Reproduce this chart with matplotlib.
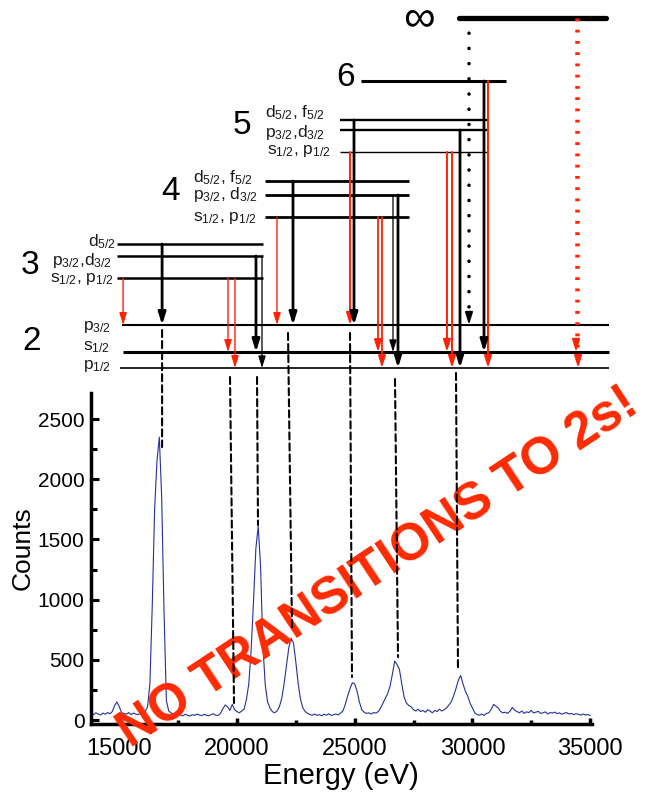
import numpy as np
import matplotlib.pyplot as plt
from matplotlib.patches import ConnectionPatch

plt.rcParams['font.family'] = ['Liberation Sans', 'DejaVu Sans']
plt.rcParams['mathtext.fontset'] = 'custom'
plt.rcParams['mathtext.rm'] = 'Liberation Sans'
plt.rcParams['mathtext.it'] = 'Liberation Sans:italic'
plt.rcParams['mathtext.bf'] = 'Liberation Sans:bold'

# spectrum (counts every 100 eV starting at 13800 eV)
e_start, e_step = 13800, 100
counts = [
    55, 45, 60, 50, 42, 58, 48, 62, 52, 70,                       # 13800-14700
    120, 150, 110, 60,                                             # 14800-15100
    55, 48, 62, 45, 58, 50, 44, 60, 52,                            # 15200-16000
    70, 110, 300, 950, 1750, 2150, 2350, 1850, 900, 160, 75,      # 16100-17100
    60, 45, 38, 50, 42, 35, 48, 40, 33, 45, 38, 50, 42, 36, 48,
    40, 35, 46, 52, 40, 38, 55,                                    # 17200-19300
    95, 125, 110, 80,                                              # 19400-19700
    130, 85, 70, 60, 75,                                           # 19800-20200
    90, 170, 300, 580, 980, 1420, 1610, 1280, 620, 290, 150, 100, 70,  # 20300-21500
    60, 75, 110,                                                   # 21600-21800
    180, 300, 450, 600, 680, 640, 480, 300, 170, 100, 70,         # 21900-22900
    55, 45, 40, 50, 38, 45, 35, 48, 40, 52, 38, 44, 50, 42, 58, 75,  # 23000-24500
    130, 200, 260, 310, 300, 240, 150, 85, 65,                     # 24600-25400
    55, 60, 50, 62, 58, 70,                                        # 25500-26000
    100, 140, 180, 220, 280, 380, 490, 460, 420, 300, 190, 140, 120, 110,  # 26100-27400
    85, 75, 90, 70, 80, 65, 85, 75, 60, 80, 70, 90, 75, 85, 100, 125,  # 27500-29000
    150, 200, 260, 330, 370, 300, 240, 200, 140, 100, 60, 45,     # 29100-30200
    40, 50, 38, 55, 60,                                            # 30300-30700
    90, 130, 115, 100,                                             # 30800-31100
    70, 60, 65, 55, 75,                                            # 31200-31600
    105, 80,                                                       # 31700-31800
    70, 60, 75, 55, 68, 62, 80, 58, 65, 72, 55, 60, 68, 50, 62, 58,
    66, 52, 60, 48, 57, 62, 50, 55, 45, 52, 48, 40, 50, 42, 46, 38,  # 31900-35000
]
energy = e_start + e_step * np.arange(len(counts))

# level scheme (heights in arbitrary diagram units, extents in eV)
level_names = ['2p32', '2s12', '2p12', '3s', '3p', '3d', '4s', '4p', '4d',
               '5s', '5p', '5d', '6', 'inf']
level_height = [68, 41, 25, 115, 137, 149, 176, 198, 212, 241, 263, 273, 312, 375]
level_start = [15100, 15150, 15030, 14900, 14900, 14900, 21190, 21190, 21190,
               24375, 24375, 24375, 25260, 29420]
level_end = [35800, 35800, 35800, 21100, 21100, 21100, 27300, 27300, 27300,
             30600, 30600, 30600, 31430, 35660]
level_lw = [1.5, 2.2, 1.2, 1.8, 1.8, 1.8, 2.0, 2.0, 2.0, 1.0, 1.7, 1.7, 2.2, 3.8]
H = dict(zip(level_names, level_height))

# allowed transitions drawn as arrows
black_E = [16818, 20807, 21062, 22379, 26627, 26839, 24970, 29473, 30492]
black_from = ['3d', '3p', '3p', '4d', '4p', '4p', '5d', '5p', '6']
black_to = ['2p32', '2s12', '2p12', '2p32', '2s12', '2p12', '2p32', '2p12', '2s12']
black_lw = [2.0, 2.0, 0.9, 2.0, 0.9, 2.0, 2.0, 2.0, 2.0]

red_E = [15161, 19618, 19915, 21699, 24800, 25989, 26159, 28920, 29133, 30662]
red_from = ['3s', '3s', '3s', '4s', '5s', '4s', '4s', '5s', '5s', '6']
red_to = ['2p32', '2s12', '2p12', '2p32', '2p32', '2s12', '2p12', '2s12', '2p12', '2p12']
red_lw = [1.0, 1.0, 1.0, 1.0, 1.4, 1.3, 1.3, 1.4, 1.4, 1.4]

limit_E = [29855, 34403, 34488]
limit_to = ['2p32', '2s12', '2p12']
limit_color = ['black', '#ff2200', '#ff2200']

# dashed guides from the scheme down to the peaks
guide_top_E = [16818, 19703, 20850, 22167, 24800, 26712, 29303]
guide_top_h = [63, 16, 16, 60, 60, 14, 20]
guide_peak_E = [16818, 19873, 20892, 22337, 24885, 26840, 29388]
guide_peak_counts = [2267, 141, 1620, 764, 357, 523, 415]

# labels
num_text = ['2', '3', '4', '5', '6', '\u221e']
num_E = [11292, 11207, 17196, 20212, 24630, 27731]
num_h = [51, 128, 202, 268, 316, 374]
num_size = [24, 24, 24, 24, 24, 32]

sub_text = ['p$_{3/2}$', 's$_{1/2}$', 'p$_{1/2}$',
            'd$_{5/2}$', 'p$_{3/2}$,d$_{3/2}$', 's$_{1/2}$, p$_{1/2}$',
            'd$_{5/2}$, f$_{5/2}$', 'p$_{3/2}$, d$_{3/2}$', 's$_{1/2}$, p$_{1/2}$',
            'd$_{5/2}$, f$_{5/2}$', 'p$_{3/2}$,d$_{3/2}$', 's$_{1/2}$, p$_{1/2}$']
sub_E = [13458, 13458, 13458, 13670, 12141, 12056, 18131, 18131, 18131,
         21189, 21189, 21274]
sub_h = [63, 43, 24, 147, 128, 111, 211, 194, 172, 276, 256, 239]

xlim = (13785, 35068)
ylim = (-33, 2716)

W, Hpx = 666, 797
fig = plt.figure(figsize=(W / 100, Hpx / 100), dpi=100)
left, right, bottom, top = 90.7, 591.7, 724, 393
ax = fig.add_axes([left / W, (Hpx - bottom) / Hpx, (right - left) / W, (bottom - top) / Hpx])
axd = fig.add_axes([left / W, (Hpx - top) / Hpx, (right - left) / W, top / Hpx])

# spectrum
ax.plot(energy, counts, color='#23329e', lw=0.8)
ax.set_xlim(*xlim)
ax.set_ylim(*ylim)
for s in ['top', 'right']:
    ax.spines[s].set_visible(False)
for s in ['left', 'bottom']:
    ax.spines[s].set_linewidth(2.5)
ax.set_xticks([15000, 20000, 25000, 30000, 35000])
ax.set_xticks([17500, 22500, 27500, 32500], minor=True)
ax.set_yticks([0, 500, 1000, 1500, 2000, 2500])
ax.set_yticks([250, 750, 1250, 1750, 2250], minor=True)
ax.tick_params(axis='x', which='major', direction='in', length=4.5, width=2.5, labelsize=17, pad=10)
ax.tick_params(axis='x', which='minor', direction='in', length=3, width=2.5)
ax.tick_params(axis='y', which='major', direction='in', length=6, width=2.2, labelsize=15, pad=4.5)
ax.tick_params(axis='y', which='minor', direction='in', length=4, width=2.2)
ax.set_xlabel('Energy (eV)', fontsize=21)
ax.set_ylabel('Counts', fontsize=19)
ax.xaxis.set_label_coords(0.5, -0.115)
ax.yaxis.set_label_coords(-0.112, 0.53)

# level scheme
axd.set_xlim(*xlim)
axd.set_ylim(0, top)
axd.axis('off')
for h, e0, e1, lw in zip(level_height, level_start, level_end, level_lw):
    axd.plot([e0, e1], [h, h], color='black', lw=lw, clip_on=False,
             solid_capstyle='round' if lw > 3 else 'butt')

head = '-|>,head_length=0.55,head_width=0.17'


def arrow(x, y0, y1, color, lw):
    axd.annotate('', xy=(x, y1), xytext=(x, y0), annotation_clip=False,
                 arrowprops=dict(arrowstyle=head, color=color, lw=lw,
                                 shrinkA=0, shrinkB=0, mutation_scale=13))


for e, a, b, lw in zip(red_E, red_from, red_to, red_lw):
    arrow(e, H[a], H[b], '#ff2200', lw)
for e, a, b, lw in zip(black_E, black_from, black_to, black_lw):
    arrow(e, H[a], H[b], 'black', lw)

for e, b, c in zip(limit_E, limit_to, limit_color):
    if c == 'black':
        axd.plot([e, e], [H['inf'], H[b] + 8], color=c, lw=2.6,
                 ls=(0, (0.01, 4.2)), dash_capstyle='round', clip_on=False)
    else:
        axd.plot([e, e], [H['inf'], H[b] + 8], color=c, lw=1.8,
                 ls=(0, (1.1, 3.4)), clip_on=False)
    arrow(e, H[b] + 9, H[b], c, 1.4)

for t, e, h, fs in zip(num_text, num_E, num_h, num_size):
    axd.text(e, h, t, fontsize=fs, ha='center', va='center', color='black')
for t, e, h in zip(sub_text, sub_E, sub_h):
    axd.text(e, h, t, fontsize=12.5, ha='left', va='baseline', color='#1a1a1a')

# red overlay text
fig.text(378 / W, 1 - 568 / Hpx, 'NO TRANSITIONS TO 2s!', fontsize=37,
         fontweight='bold', color='#ff2a00', rotation=33.5, ha='center',
         va='center', rotation_mode='anchor', zorder=2)

for e0, h0, e1, c1 in zip(guide_top_E, guide_top_h, guide_peak_E, guide_peak_counts):
    con = ConnectionPatch(xyA=(e0, h0), coordsA=axd.transData,
                          xyB=(e1, c1), coordsB=ax.transData,
                          color='black', lw=1.5, ls=(0, (3.4, 1.9)), zorder=5)
    fig.add_artist(con)

fig.savefig('out.png', dpi=100)
